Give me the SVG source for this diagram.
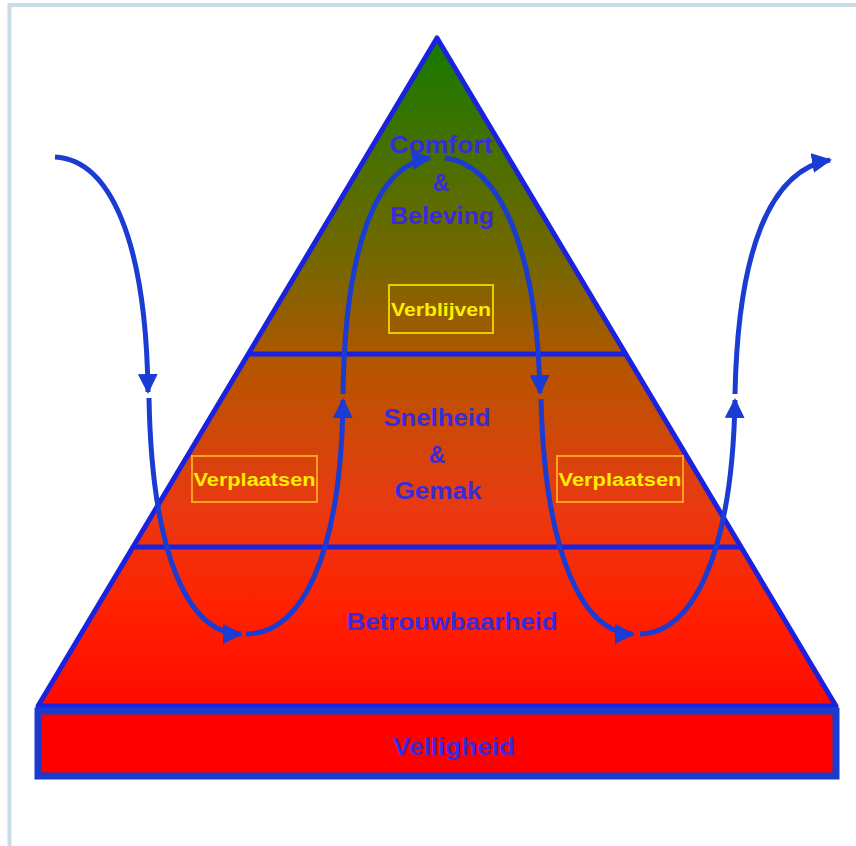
<svg xmlns="http://www.w3.org/2000/svg" width="856" height="846" viewBox="0 0 856 846">
<defs>
<linearGradient id="pg" x1="0" y1="38" x2="0" y2="706" gradientUnits="userSpaceOnUse">
<stop offset="0" stop-color="#157a00"/>
<stop offset="0.35" stop-color="#7a6600"/>
<stop offset="0.5" stop-color="#b85400"/>
<stop offset="0.7" stop-color="#e83a10"/>
<stop offset="0.85" stop-color="#ff2200"/>
<stop offset="1" stop-color="#ff0a00"/>
</linearGradient>
<marker id="ah" viewBox="0 0 10 10" refX="9" refY="5" markerWidth="4" markerHeight="4" orient="auto" markerUnits="strokeWidth">
<path d="M0,0 L10,5 L0,10 z" fill="#1a3cd2"/>
</marker>
<style>
.lvl{font-family:"Liberation Sans",Arial,sans-serif;font-weight:bold;font-size:23px;fill:#3a2ade;text-anchor:middle}
.box{font-family:"Liberation Sans",Arial,sans-serif;font-weight:bold;font-size:18px;fill:#ffee00;text-anchor:middle}
.conn{fill:none;stroke:#1a3cd2;stroke-width:5;marker-end:url(#ah)}
</style>
</defs>
<rect x="0" y="0" width="856" height="846" fill="#ffffff"/>
<path d="M9.5,850 V5 H860" fill="none" stroke="#c8dde8" stroke-width="4"/>
<g id="pyramid">
<polygon points="437,38 836,706 38,706" fill="url(#pg)" stroke="#1a22e0" stroke-width="5" stroke-linejoin="round"/>
<line x1="249" y1="354" x2="626" y2="354" stroke="#1a22e0" stroke-width="5"/>
<line x1="134" y1="547" x2="742" y2="547" stroke="#1a22e0" stroke-width="5"/>
</g>
<g id="base">
<rect x="38" y="711" width="798" height="65" fill="#ff0000" stroke="#1a3ccc" stroke-width="7"/>
<text class="lvl" x="454" y="755" textLength="122" lengthAdjust="spacingAndGlyphs">Velligheid</text>
</g>
<g id="comfort">
<text class="lvl" x="441" y="153" textLength="103" lengthAdjust="spacingAndGlyphs">Comfort</text>
<text class="lvl" x="441" y="191">&amp;</text>
<text class="lvl" x="442" y="224" textLength="104" lengthAdjust="spacingAndGlyphs">Beleving</text>
</g>
<g id="snelheid">
<text class="lvl" x="437" y="426" textLength="107" lengthAdjust="spacingAndGlyphs">Snelheid</text>
<text class="lvl" x="437" y="463">&amp;</text>
<text class="lvl" x="438" y="499" textLength="87" lengthAdjust="spacingAndGlyphs">Gemak</text>
</g>
<g id="betrouwbaarheid">
<text class="lvl" x="452" y="630" textLength="211" lengthAdjust="spacingAndGlyphs">Betrouwbaarheid</text>
</g>
<g id="verblijven">
<rect x="389" y="285" width="104" height="48" fill="none" stroke="#e8cc00" stroke-width="2"/>
<text class="box" x="441" y="316" textLength="100" lengthAdjust="spacingAndGlyphs">Verblijven</text>
</g>
<g id="verplaatsen-left">
<rect x="192" y="456" width="125" height="46" fill="none" stroke="#ffa020" stroke-width="2"/>
<text class="box" x="254.5" y="486" textLength="122" lengthAdjust="spacingAndGlyphs">Verplaatsen</text>
</g>
<g id="verplaatsen-right">
<rect x="557" y="456" width="126" height="46" fill="none" stroke="#ffa020" stroke-width="2"/>
<text class="box" x="620" y="486" textLength="123" lengthAdjust="spacingAndGlyphs">Verplaatsen</text>
</g>
<g id="connectors">
<path class="conn" d="M55,157 C110,160 146,240 148,392"/>
<path class="conn" d="M149,398 C152,560 190,634 241,634"/>
<path class="conn" d="M246,634 C300,634 341,560 343,400"/>
<path class="conn" d="M343,394 C345,250 375,165 430,158"/>
<path class="conn" d="M445,158 C500,165 537,250 540,393"/>
<path class="conn" d="M541,399 C545,560 585,634 633,634"/>
<path class="conn" d="M640,634 C690,634 732,560 735,400"/>
<path class="conn" d="M735,394 C738,250 770,170 830,160"/>
</g>
</svg>
